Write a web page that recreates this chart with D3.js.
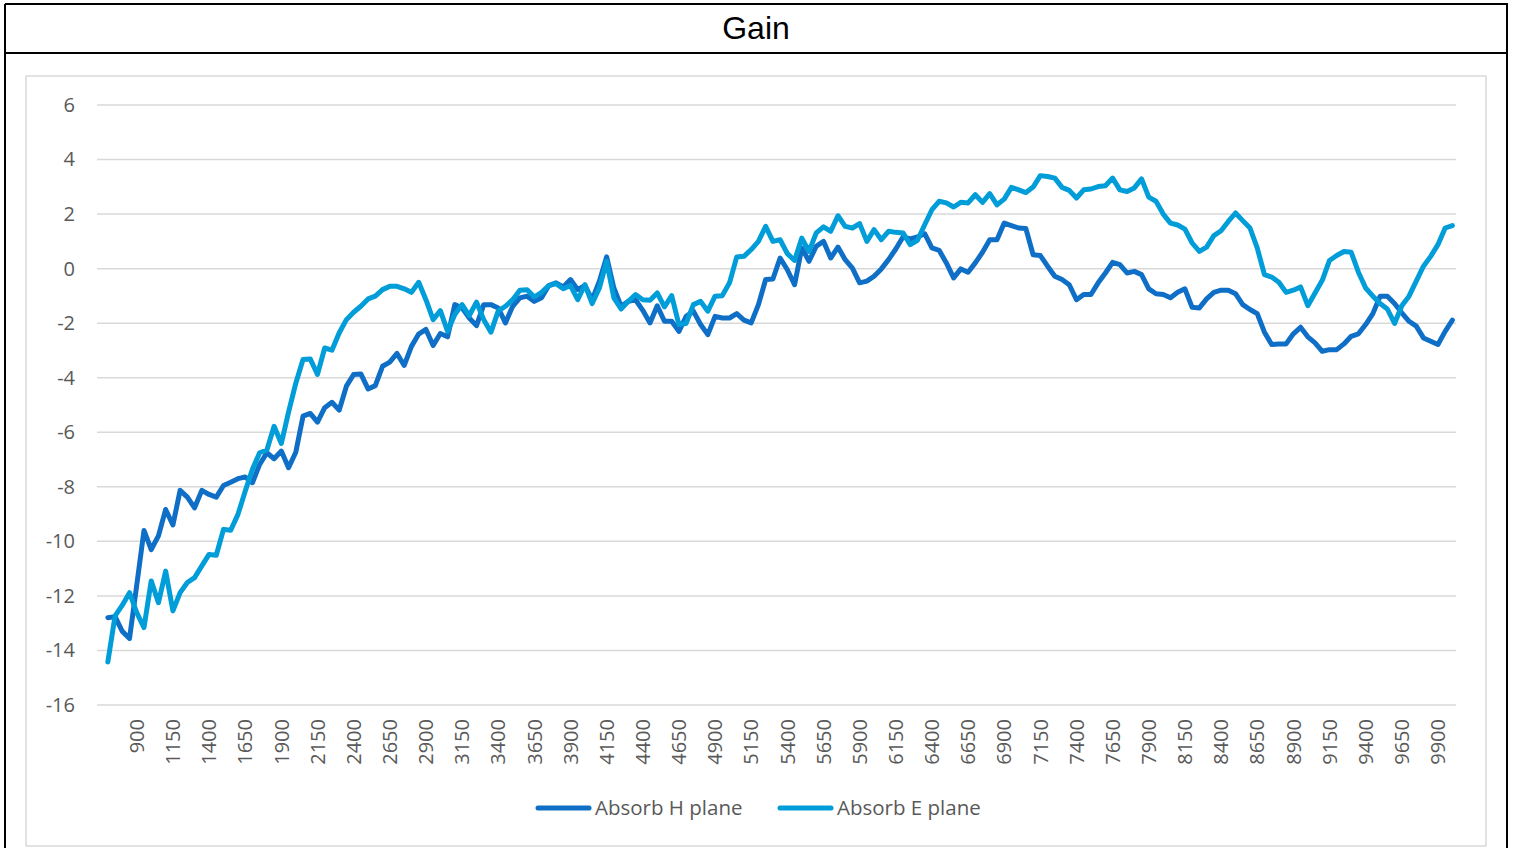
<!DOCTYPE html>
<html>
<head>
<meta charset="utf-8">
<script src="https://cdn.jsdelivr.net/npm/d3@7"></script>
<style>
  body { margin: 0; background: #fff; }
  svg text { font-family: "Open Sans", sans-serif; }
</style>
</head>
<body>
<script>
const w = 1513;
const h = 848;

// frequency categories, 700 .. 10000 step 50 (first slot on the axis is blank)
const categories = d3.range(700, 10001, 50);
const tickLabels = d3.range(900, 10000, 250);
const yTicks = [-16, -14, -12, -10, -8, -6, -4, -2, 0, 2, 4, 6];

const seriesNames = ["Absorb H plane", "Absorb E plane"];
const seriesColors = ["#0F6FC6", "#009DD9"];

const absorbH = [
  -12.8, -12.76, -13.3, -13.56, -11.6, -9.6, -10.3, -9.8, -8.83, -9.4,
  -8.13, -8.38, -8.77, -8.13, -8.28, -8.38, -7.95, -7.83, -7.7, -7.64,
  -7.85, -7.18, -6.75, -6.97, -6.69, -7.3, -6.73, -5.41, -5.31, -5.63,
  -5.1, -4.9, -5.19, -4.31, -3.88, -3.86, -4.41, -4.29, -3.58, -3.43,
  -3.11, -3.55, -2.85, -2.4, -2.23, -2.82, -2.38, -2.5, -1.32, -1.44,
  -1.81, -2.09, -1.32, -1.32, -1.44, -1.99, -1.38, -1.07, -1.01, -1.2,
  -1.07, -0.62, -0.52, -0.67, -0.4, -0.77, -0.62, -1.14, -0.46, 0.43,
  -0.71, -1.38, -1.2, -1.14, -1.53, -1.99, -1.36, -1.93, -1.93, -2.3,
  -1.75, -1.56, -2.05, -2.42, -1.75, -1.81, -1.81, -1.65, -1.89, -1.99,
  -1.32, -0.4, -0.38, 0.39, -0.04, -0.59, 0.76, 0.27, 0.82, 1.0,
  0.39, 0.79, 0.33, 0.02, -0.52, -0.46, -0.28, -0.01, 0.33, 0.72,
  1.16, 1.09, 1.16, 1.28, 0.76, 0.67, 0.21, -0.34, -0.01, -0.13,
  0.21, 0.6, 1.06, 1.06, 1.67, 1.58, 1.49, 1.47, 0.51, 0.48,
  0.09, -0.28, -0.4, -0.59, -1.14, -0.95, -0.95, -0.52, -0.16, 0.23,
  0.15, -0.16, -0.1, -0.22, -0.74, -0.92, -0.95, -1.07, -0.87, -0.74,
  -1.42, -1.44, -1.11, -0.87, -0.79, -0.79, -0.92, -1.32, -1.5, -1.65,
  -2.33, -2.78, -2.76, -2.76, -2.39, -2.15, -2.5, -2.72, -3.03, -2.97,
  -2.97, -2.76, -2.48, -2.39, -2.05, -1.65, -1.01, -1.01, -1.28, -1.62,
  -1.93, -2.11, -2.54, -2.66, -2.78, -2.3, -1.89
];

const absorbE = [
  -14.42, -12.73, -12.34, -11.88, -12.61, -13.16, -11.45, -12.25, -11.09, -12.55,
  -11.88, -11.51, -11.33, -10.9, -10.48, -10.51, -9.56, -9.59, -9.01, -8.16,
  -7.36, -6.75, -6.65, -5.78, -6.41, -5.26, -4.2, -3.33, -3.31, -3.88,
  -2.91, -2.99, -2.36, -1.87, -1.6, -1.38, -1.11, -1.01, -0.77, -0.65,
  -0.65, -0.74, -0.87, -0.5, -1.14, -1.87, -1.54, -2.3, -1.68, -1.32,
  -1.72, -1.23, -1.87, -2.33, -1.56, -1.38, -1.14, -0.79, -0.77, -1.04,
  -0.87, -0.62, -0.55, -0.74, -0.62, -1.14, -0.59, -1.28, -0.71, 0.27,
  -1.07, -1.48, -1.2, -0.95, -1.14, -1.16, -0.89, -1.4, -0.99, -2.05,
  -2.01, -1.32, -1.2, -1.56, -1.01, -0.99, -0.52, 0.43, 0.45, 0.7,
  1.0, 1.55, 1.0, 1.06, 0.55, 0.3, 1.12, 0.63, 1.31, 1.53,
  1.37, 1.94, 1.55, 1.49, 1.65, 1.0, 1.43, 1.06, 1.37, 1.33,
  1.31, 0.88, 1.04, 1.61, 2.16, 2.47, 2.41, 2.26, 2.43, 2.41,
  2.71, 2.43, 2.75, 2.34, 2.55, 2.98, 2.89, 2.79, 2.99, 3.41,
  3.38, 3.32, 2.98, 2.87, 2.59, 2.89, 2.92, 3.01, 3.04, 3.32,
  2.89, 2.83, 2.96, 3.29, 2.62, 2.47, 2.0, 1.67, 1.6, 1.45,
  0.94, 0.63, 0.79, 1.21, 1.39, 1.73, 2.04, 1.76, 1.49, 0.76,
  -0.22, -0.31, -0.5, -0.87, -0.79, -0.67, -1.36, -0.89, -0.43, 0.3,
  0.48, 0.63, 0.6, -0.13, -0.71, -1.01, -1.28, -1.48, -2.01, -1.36,
  -1.01, -0.46, 0.09, 0.45, 0.88, 1.49, 1.58
];

const series = [absorbH, absorbE];

const svg = d3.select("body").append("svg").attr("width", w).attr("height", h);

// outer frame + title box
const frame = svg.append("g").attr("stroke", "#000").attr("stroke-width", 2);
frame.append("line").attr("x1", 5).attr("x2", 1508).attr("y1", 4).attr("y2", 4);
frame.append("line").attr("x1", 5).attr("x2", 1508).attr("y1", 53).attr("y2", 53);
frame.append("line").attr("x1", 5).attr("x2", 5).attr("y1", 4).attr("y2", h);
frame.append("line").attr("x1", 1507).attr("x2", 1507).attr("y1", 4).attr("y2", h);

svg.append("text")
  .attr("x", 756)
  .attr("y", 39)
  .attr("text-anchor", "middle")
  .style("font-family", "'Liberation Sans', Arial, sans-serif")
  .style("font-size", "32px")
  .style("fill", "#000")
  .text("Gain");

// chart area border
svg.append("rect")
  .attr("x", 26).attr("y", 76)
  .attr("width", 1460).attr("height", 770)
  .attr("fill", "none")
  .attr("stroke", "#d9d9d9")
  .attr("stroke-width", 1.5);

const left = 97, right = 1456;
const x = d3.scaleBand().domain([""].concat(categories)).range([left, right]);
const cx = (c) => x(c) + x.bandwidth() / 2;
const y = d3.scaleLinear().domain([-16, 6]).range([705, 105]);

// gridlines
svg.append("g")
  .selectAll("line")
  .data(yTicks)
  .enter()
  .append("line")
  .attr("x1", left).attr("x2", right)
  .attr("y1", (d) => y(d)).attr("y2", (d) => y(d))
  .attr("stroke", "#d9d9d9")
  .attr("stroke-width", 1.5);

// y axis labels (plain hyphen for negatives, like the original)
const yAxis = svg.append("g")
  .attr("transform", `translate(75,0)`)
  .call(d3.axisLeft(y).tickValues(yTicks).tickSize(0).tickPadding(0).tickFormat((d) => String(d)));
yAxis.select(".domain").remove();
yAxis.selectAll("text")
  .style("font-family", "'Open Sans', sans-serif")
  .style("font-size", "20px")
  .style("fill", "#595959");

// x axis labels, rotated
const xAxis = svg.append("g")
  .attr("transform", `translate(0,719)`)
  .call(d3.axisBottom(x).tickValues(tickLabels).tickSize(0).tickPadding(0));
xAxis.select(".domain").remove();
xAxis.selectAll(".tick")
  .attr("transform", (d) => `translate(${cx(d)},0)`);
xAxis.selectAll("text")
  .attr("transform", "rotate(-90)")
  .attr("text-anchor", "end")
  .attr("x", 0)
  .attr("y", 0)
  .attr("dy", "0.36em")
  .style("font-family", "'Open Sans', sans-serif")
  .style("font-size", "20px")
  .style("fill", "#595959");

// series lines
const line = d3.line()
  .defined((d) => d != null)
  .x((d, i) => cx(categories[i]))
  .y((d) => y(d));

svg.selectAll(".series")
  .data(series)
  .enter()
  .append("path")
  .attr("class", "series")
  .attr("d", (d) => line(d))
  .attr("fill", "none")
  .attr("stroke", (d, i) => seriesColors[i])
  .attr("stroke-width", 5)
  .attr("stroke-linejoin", "round")
  .attr("stroke-linecap", "round");

// legend
const legendX = [538, 780];
const legend = svg.selectAll(".legend")
  .data(seriesNames)
  .enter()
  .append("g")
  .attr("class", "legend")
  .attr("transform", (d, i) => `translate(${legendX[i]},808)`);
legend.append("line")
  .attr("x1", 0).attr("x2", 51)
  .attr("stroke", (d, i) => seriesColors[i])
  .attr("stroke-width", 5)
  .attr("stroke-linecap", "round");
legend.append("text")
  .attr("x", 57)
  .attr("dy", "0.35em")
  .style("font-size", "20.5px")
  .style("fill", "#595959")
  .text((d) => d);
</script>
</body>
</html>
